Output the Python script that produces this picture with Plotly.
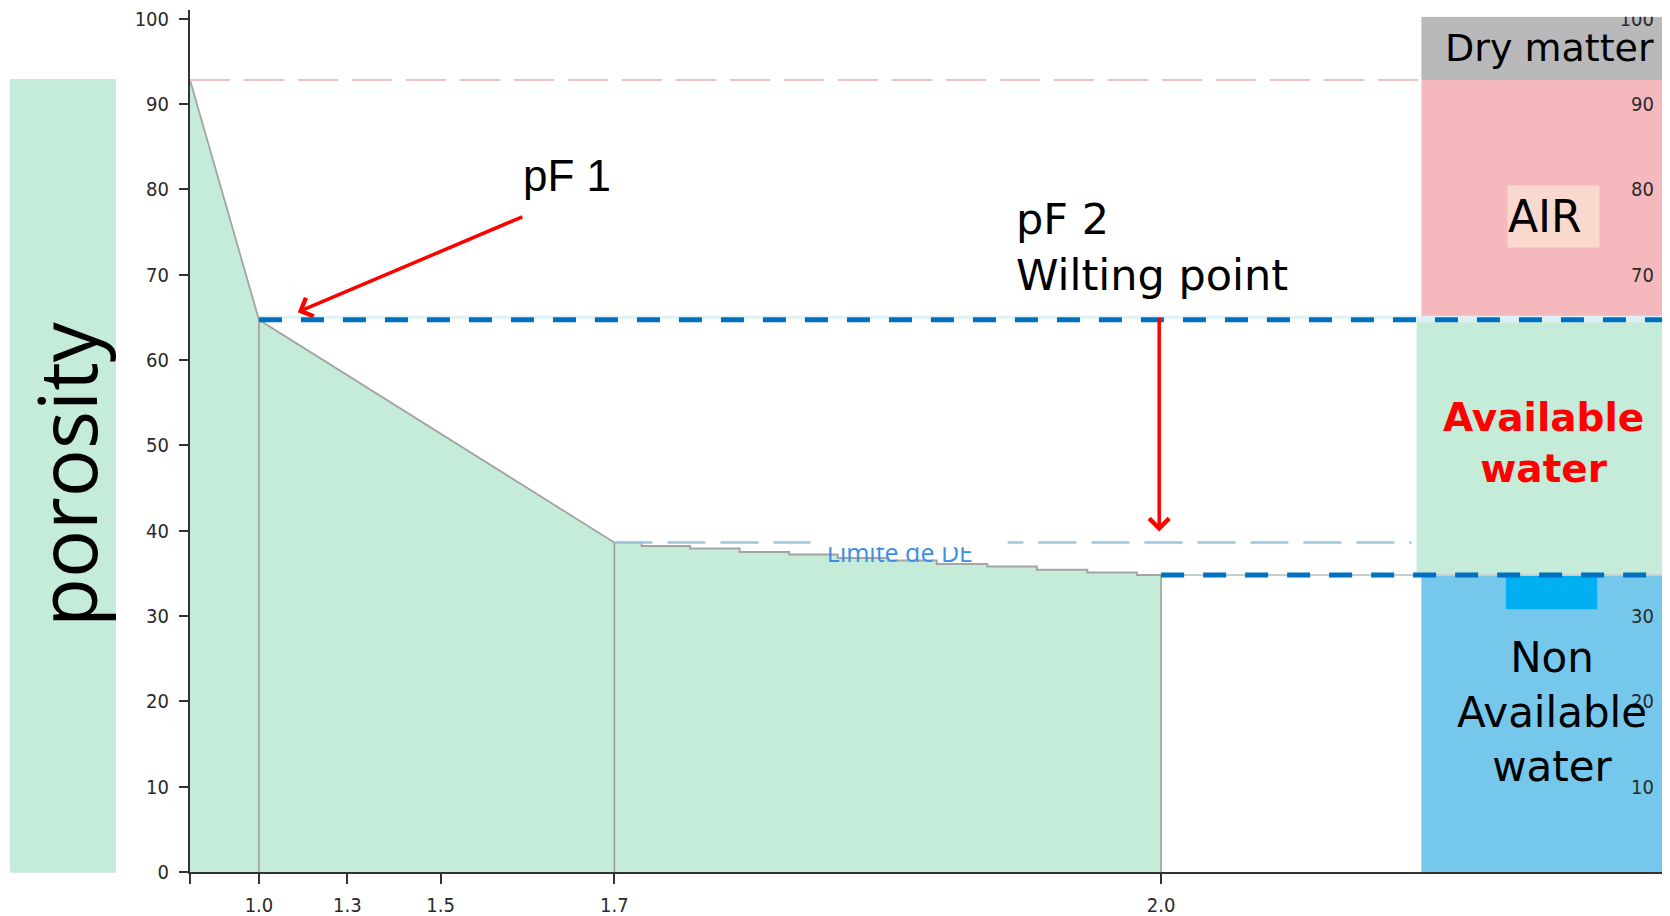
import plotly.graph_objects as go

# ---------------- data ----------------
# positions along the original (non-linear) x axis; label "2.0" sits at 100
tick_positions = [0, 7.1, 16.2, 25.8, 43.7, 100]
tick_labels = ["", "1.0", "1.3", "1.5", "1.7", "2.0"]

curve_pos = [0, 7.1, 43.7]
curve_val = [92.8, 64.7, 38.6]

step_pos = [43.7, 46.5, 51.5, 56.6, 61.7, 66.7, 71.9, 76.9, 82.1, 87.2, 92.4, 97.5, 100]
step_val = [38.6, 38.2, 37.9, 37.5, 37.2, 36.8, 36.5, 36.1, 35.8, 35.4, 35.1, 34.8, 34.8]

pf_marker_pos = [7.1, 43.7, 100]
pf_marker_val = [64.7, 38.6, 34.8]

saturation_level = 92.8
pf1_level = 64.7
de_limit_level = 38.6
pf2_level = 34.8

y_ticks = [0, 10, 20, 30, 40, 50, 60, 70, 80, 90, 100]
right_ticks = [10, 20, 30, 70, 80, 90, 100]

x_max = 152.4
y_max = 101
panel_left = 126.8
panel_left_green = 126.3
de_line_end = 125.8

compartments = {
    "dry": (92.8, 100.2),
    "air": (65.0, 92.8),
    "avail": (34.8, 64.4),
    "nonavail": (0, 34.8),
}

# ---------------- figure ----------------
fig = go.Figure()

GREEN = "#c5ebd9"
tick_font = dict(family="Liberation Sans Narrow, DejaVu Sans Condensed, Arial Narrow, sans-serif",
                 size=20, color="#2a2a2a")
TXT = "DejaVu Sans, Verdana, sans-serif"

fig.add_trace(go.Scatter(x=curve_pos, y=curve_val, mode="lines", fill="tozeroy",
                         fillcolor=GREEN, line=dict(color="#a4a4a4", width=1.8),
                         hoverinfo="skip"))
fig.add_trace(go.Scatter(x=step_pos, y=step_val, mode="lines", fill="tozeroy",
                         fillcolor=GREEN, line=dict(color="#a4a4a4", width=2, shape="hv"),
                         hoverinfo="skip"))

vx, vy = [], []
for p, v in zip(pf_marker_pos, pf_marker_val):
    vx += [p, p, None]
    vy += [0, v, None]
fig.add_trace(go.Scatter(x=vx, y=vy, mode="lines", line=dict(color="#9a9a9a", width=1.5),
                         hoverinfo="skip"))

# saturation (pink dashed)
fig.add_trace(go.Scatter(x=[0, panel_left], y=[saturation_level] * 2, mode="lines",
                         line=dict(color="#f0c2c2", width=2, dash="40px,14px"), hoverinfo="skip"))
# DE limit (light blue dashed)
fig.add_trace(go.Scatter(x=[pf_marker_pos[1], de_line_end], y=[de_limit_level] * 2, mode="lines",
                         line=dict(color="#9cc8dc", width=2.5, dash="38px,15px"), hoverinfo="skip"))
# faint original lines under the blue dashed ones
fig.add_trace(go.Scatter(x=[pf_marker_pos[0], x_max], y=[pf1_level + 0.3] * 2, mode="lines",
                         line=dict(color="#dcf0f5", width=3), hoverinfo="skip"))
fig.add_trace(go.Scatter(x=[pf_marker_pos[2], x_max], y=[pf2_level] * 2, mode="lines",
                         line=dict(color="#c8cece", width=2), hoverinfo="skip"))
# label of the DE line
fig.add_trace(go.Scatter(x=[73.1], y=[37.1], mode="text", text=["Limite de DE"],
                         textposition="middle center",
                         textfont=dict(family="Open Sans, sans-serif", size=25, color="#3a8ee4"),
                         hoverinfo="skip"))
# blue dashed pF lines
fig.add_trace(go.Scatter(x=[pf_marker_pos[0], x_max], y=[pf1_level] * 2, mode="lines",
                         line=dict(color="#0070c0", width=5, dash="23px,19px"), hoverinfo="skip"))
fig.add_trace(go.Scatter(x=[pf_marker_pos[2], x_max], y=[pf2_level] * 2, mode="lines",
                         line=dict(color="#0070c0", width=5, dash="23px,19px"), hoverinfo="skip"))
# dummy trace for the right axis
fig.add_trace(go.Scatter(x=[0], y=[0], yaxis="y2", mode="none", hoverinfo="skip"))

shapes = []
def rect(x0, x1, y0, y1, color, layer="below", xref="x", yref="y"):
    shapes.append(dict(type="rect", xref=xref, yref=yref, x0=x0, x1=x1, y0=y0, y1=y1,
                       fillcolor=color, line=dict(width=0), layer=layer))

rect(panel_left, x_max, *compartments["dry"], "#b9b9bc")
rect(panel_left, x_max, *compartments["air"], "#f5b9bd")
rect(panel_left_green, x_max, compartments["avail"][1], compartments["air"][0], "#d9eff5")
rect(panel_left_green, x_max, *compartments["avail"], GREEN)
rect(panel_left, x_max, *compartments["nonavail"], "#75c8ec")
rect(135.5, 144.9, 30.8, pf2_level, "#00b0f0")
# white masks
rect(63.9, 84.2, 38.06, 40.5, "white", layer="above")
rect(panel_left, x_max, compartments["dry"][1], y_max + 1, "white", layer="above")
# porosity side box
rect(-0.1216, -0.05, -0.001, 0.92, GREEN, xref="paper", yref="paper")

annotations = [
    dict(text="porosity", xref="paper", yref="paper", x=-0.0845, y=0.4617, textangle=-90,
         xanchor="center", yanchor="middle",
         showarrow=False, font=dict(family="Open Sans, sans-serif", size=80, color="black")),
    dict(text="pF 1", x=38.8, y=81.6, showarrow=False,
         font=dict(family="Liberation Sans, Arial, sans-serif", size=44, color="black")),
    dict(text="", x=11.1, y=65.6, ax=226, ay=-96, showarrow=True, arrowhead=4,
         arrowsize=1.1, arrowwidth=3.5, arrowcolor="#ff0000"),
    dict(text="pF 2<br>Wilting point", x=84.9, y=73.2, xanchor="left", align="left",
         showarrow=False, font=dict(family=TXT, size=43, color="black")),
    dict(text="", x=99.8, y=39.9, ax=0, ay=-215, showarrow=True, arrowhead=4,
         arrowsize=1.1, arrowwidth=3.5, arrowcolor="#ff0000"),
    dict(text="Dry matter", x=140.0, y=96.5, showarrow=False,
         font=dict(family=TXT, size=38, color="black")),
    dict(text="AIR", x=135.6, y=76.8, xanchor="left", align="left", showarrow=False,
         bgcolor="#f9d8ce", width=91, height=61, borderpad=0,
         font=dict(family=TXT, size=44, color="black")),
    dict(text="Available<br>water", x=139.4, y=50.3, showarrow=False,
         font=dict(family=TXT, size=39, color="#ff0000", weight="bold")),
    dict(text="Non<br>Available<br>water", x=140.3, y=18.7, showarrow=False,
         font=dict(family=TXT, size=42, color="black")),
]

axis_common = dict(showgrid=False, zeroline=False, ticks="outside", tickwidth=2,
                   tickcolor="#333333", tickfont=tick_font, automargin=False,
                   fixedrange=True, ticklabeloverflow="allow")

# the page body adds an 8px offset, so the figure is 8px smaller than the window
fig.update_layout(
    template="none",
    width=1662, height=908,
    margin=dict(l=182, r=0, t=2, b=44),
    paper_bgcolor="white", plot_bgcolor="white",
    showlegend=False,
    shapes=shapes,
    annotations=annotations,
    xaxis=dict(range=[0, x_max], tickmode="array", tickvals=tick_positions, ticktext=tick_labels,
               showline=True, linecolor="#333333", linewidth=2, ticklen=10,
               ticklabelstandoff=4, **axis_common),
    yaxis=dict(range=[0, y_max], tickmode="array", tickvals=y_ticks,
               showline=True, linecolor="#333333", linewidth=2, ticklen=9,
               ticklabelstandoff=6, **axis_common),
    yaxis2=dict(range=[0, y_max], overlaying="y", anchor="free", position=1, side="left",
                tickmode="array", tickvals=right_ticks, showline=False, ticklen=6,
                ticklabelstandoff=6, **axis_common),
)

fig.write_html("out.html", config={"displayModeBar": False})
